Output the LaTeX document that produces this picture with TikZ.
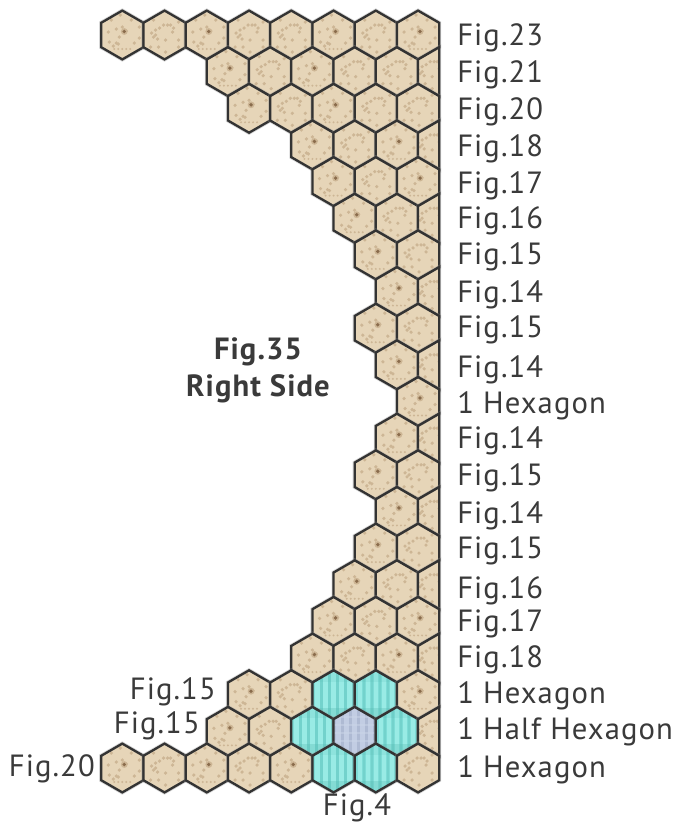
\documentclass[tikz,border=0pt]{standalone}
\usepackage{fontspec}
\setmainfont[LetterSpace=3.5]{PT Sans}
\definecolor{sand}{HTML}{E6D5B8}
\definecolor{dotc}{HTML}{CDB695}
\definecolor{dotd}{HTML}{8A6C4C}
\definecolor{hexline}{HTML}{333333}
\definecolor{cyanb}{HTML}{7EDCD6}
\definecolor{cyand}{HTML}{55B8B0}
\definecolor{cyanl}{HTML}{A8F4EE}
\definecolor{blueb}{HTML}{B4C0DA}
\definecolor{bluel}{HTML}{CBD5E8}
\definecolor{labelc}{HTML}{3A3A3A}
\tikzset{
  hexedge/.style={draw=hexline,line width=1.75pt,line join=miter},
  halo/.style={draw=black!45,opacity=.35,line width=3pt},
  figlabel/.style={text=labelc,font=\fontsize{23}{26}\selectfont,inner sep=0pt,anchor=base west},
  figlabelr/.style={text=labelc,font=\fontsize{23}{26}\selectfont,inner sep=0pt,anchor=base east},
  figlabelc/.style={text=labelc,font=\fontsize{23}{26}\selectfont,inner sep=0pt,anchor=base},
  titlelabel/.style={text=labelc,font=\bfseries\fontsize{23}{26}\selectfont,inner sep=0pt,anchor=base}
}
\newcommand{\fullhexpath}{(0,-24.4) -- (21.12,-12.2) -- (21.12,12.2) -- (0,24.4) -- (-21.12,12.2) -- (-21.12,-12.2) -- cycle}
\newcommand{\halfhexpath}{(0,-24.4) -- (-21.12,-12.2) -- (-21.12,12.2) -- (0,24.4) -- cycle}
\newcommand{\dotsA}{%
  \foreach \a/\b in {-13/7,-11/-15,0/-8,-3/2,17/-8,17/3,9/-15,-2/-20,-9/11,-6/8,-4/9,-14/-3,4/-4,-6/-6,12/8}{\fill[dotc] (\a,\b) circle (1.8);}
  \foreach \a in {-8,-4,...,10}{\fill[dotc] (\a,14) circle (1.1);}
  \fill[dotc] (2,-3.5) circle (3.4);
  \fill[dotd] (2,-3.5) circle (1.9);
}
\newcommand{\dotsB}{%
  \foreach \a/\b in {-13/-2,-9/0,-9/-5,-1/-10,6/-10,-5/-7,8/-3,1/5,-11/-15,14/5,-6/12,-14/12,1/17,14/12,14/-13,-11/2,9/-7,3/-10,-7/4}{\fill[dotc] (\a,\b) circle (1.8);}
}
\newcommand{\stripes}[3]{%
  \fill[#1] (-22,-25) rectangle (22,25);
  \foreach \a in {-16,-8,0,8,16}{\fill[#2,opacity=.65] (\a-2.2,-25) rectangle (\a+2.2,25);}
  \foreach \a in {-12,-4,4,12,20}{\fill[#3,opacity=.25] (\a-1.2,-25) rectangle (\a+1.2,25);}
}
\newcommand{\onehex}[3]{%
  \begin{scope}[shift={(122.3+21.125*#1,#2)}]
    \if#3H
      \draw[halo] \halfhexpath;
      \begin{scope}\clip \halfhexpath; \fill[sand] (-22,-25) rectangle (0,25); \begin{scope}[shift={(-8,0)}]\dotsB\end{scope}\end{scope}
      \draw[hexedge] \halfhexpath;
    \else
      \draw[halo] \fullhexpath;
      \begin{scope}\clip \fullhexpath;
        \if#3A \fill[sand] (-22,-25) rectangle (22,25); \dotsA\fi
        \if#3B \fill[sand] (-22,-25) rectangle (22,25); \dotsB\fi
        \if#3C \stripes{cyanb}{cyanl}{cyand}
          \fill[cyand,opacity=.3] (-22,13) rectangle (22,25);
          \fill[cyand,opacity=.15] (-22,-25) rectangle (22,-13);\fi
        \if#3G \stripes{blueb}{bluel}{blueb!88!black}
          \foreach \b in {-14,-6,2,10}{\fill[bluel,opacity=.5] (-22,\b-1) rectangle (22,\b+1);}\fi
      \end{scope}
      \draw[hexedge] \fullhexpath;
    \fi
  \end{scope}
}
\begin{document}
\begin{tikzpicture}[x=0.75pt,y=-0.75pt]
\useasboundingbox (0,0) rectangle (690,822);
\foreach \yy/\lst in {
  35/{0/A,2/B,4/A,6/B,8/B,10/A,12/B,14/A},
  71.65/{5/A,7/B,9/A,11/B,13/B,15/H},
  108.3/{6/A,8/B,10/A,12/B,14/B},
  144.95/{9/A,11/B,13/A,15/H},
  181.6/{10/A,12/B,14/A},
  218.25/{11/A,13/B,15/H},
  254.9/{12/A,14/B},
  291.55/{13/A,15/H},
  328.2/{12/A,14/B},
  364.85/{13/A,15/H},
  401.5/{14/A},
  438.15/{13/A,15/H},
  474.8/{12/A,14/B},
  511.45/{13/A,15/H},
  548.1/{12/A,14/B},
  584.75/{11/A,13/B,15/H},
  621.4/{10/A,12/B,14/A},
  658.05/{9/A,11/B,13/A,15/H},
  694.7/{6/A,8/B,10/C,12/C,14/A},
  731.35/{5/A,7/B,9/C,11/G,13/C,15/H},
  768/{0/A,2/B,4/A,6/B,8/A,10/C,12/C,14/B}%
}{
  \foreach \xx/\tp in \lst {\onehex{\xx}{\yy}{\tp}}
}
\node[figlabel] (l1) at (457,45) {Fig.23};
\node[figlabel] (l2) at (457,82) {Fig.21};
\node[figlabel] (l3) at (457,119) {Fig.20};
\node[figlabel] (l4) at (457,156) {Fig.18};
\node[figlabel] (l5) at (457,193) {Fig.17};
\node[figlabel] (l6) at (457,228) {Fig.16};
\node[figlabel] (l7) at (457,264) {Fig.15};
\node[figlabel] (l8) at (457,302) {Fig.14};
\node[figlabel] (l9) at (457,337) {Fig.15};
\node[figlabel] (l10) at (457,377) {Fig.14};
\node[figlabel] (l11) at (457,413) {1 Hexagon};
\node[figlabel] (l12) at (457,448) {Fig.14};
\node[figlabel] (l13) at (457,485) {Fig.15};
\node[figlabel] (l14) at (457,523) {Fig.14};
\node[figlabel] (l15) at (457,558) {Fig.15};
\node[figlabel] (l16) at (457,598) {Fig.16};
\node[figlabel] (l17) at (457,631) {Fig.17};
\node[figlabel] (l18) at (457,667) {Fig.18};
\node[figlabel] (l19) at (457,703) {1 Hexagon};
\node[figlabel] (l20) at (457,739) {1 Half Hexagon};
\node[figlabel] (l21) at (457,777) {1 Hexagon};
\node[figlabelr] (b1) at (216,699) {Fig.15};
\node[figlabelr] (b2) at (200,733) {Fig.15};
\node[figlabelr] (b3) at (95,776) {Fig.20};
\node[figlabelc] (b4) at (357,815) {Fig.4};
\node[titlelabel] (t1) at (258,359) {Fig.35};
\node[titlelabel] (t2) at (258,396) {Right Side};
\end{tikzpicture}
\end{document}
